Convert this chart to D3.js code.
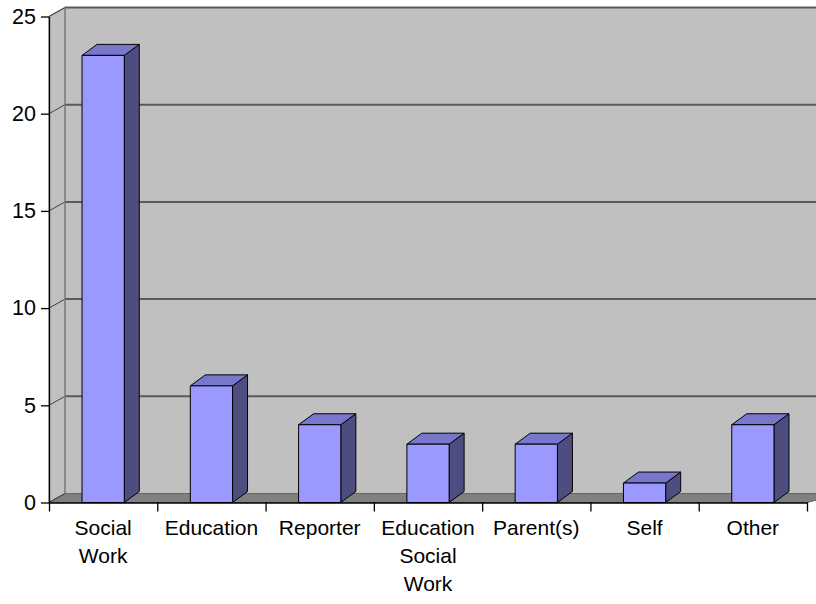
<!DOCTYPE html>
<html>
<head>
<meta charset="utf-8">
<script src="https://cdn.jsdelivr.net/npm/d3@7/dist/d3.min.js"></script>
<style>
  html, body { margin: 0; padding: 0; background: #ffffff; }
  svg { display: block; }
  text { font-family: "Liberation Sans", Arial, sans-serif; fill: #000; }
</style>
</head>
<body>
<svg id="chart" width="816" height="604"></svg>
<script>
// Referral sources (count of cases)
const categories = ["Social Work", "Education", "Reporter", "Education Social Work", "Parent(s)", "Self", "Other"];
const categoryLines = [["Social", "Work"], ["Education"], ["Reporter"], ["Education", "Social", "Work"], ["Parent(s)"], ["Self"], ["Other"]];
const values = [23, 6, 4, 3, 3, 1, 4];
const yTicks = [0, 5, 10, 15, 20, 25];

const svg = d3.select("#chart");

// Front plane geometry and the oblique depth offset of the walls
const x0 = 49, x1 = 807;
const wall = { dx: 16, dy: -9 };
const barDepth = { dx: 15, dy: -11 };

const x = d3.scaleBand().domain(categories).range([x0, x1]).paddingInner(0).paddingOuter(0);
const xEdge = d3.scaleLinear().domain([0, categories.length]).range([x0, x1]);
const y = d3.scaleLinear().domain([0, 25]).range([502.5, 16.5]);

const poly = pts => "M" + pts.map(p => p.join(",")).join("L") + "Z";

// Back wall
svg.append("path")
  .attr("d", poly([[x0 + wall.dx, y(25) + wall.dy], [900, y(25) + wall.dy], [900, y(0) + wall.dy], [x0 + wall.dx, y(0) + wall.dy]]))
  .attr("fill", "#c0c0c0");

// Left side wall
svg.append("path")
  .attr("d", poly([[x0, y(25)], [x0 + wall.dx, y(25) + wall.dy], [x0 + wall.dx, y(0) + wall.dy], [x0, y(0)]]))
  .attr("fill", "#c0c0c0")
  .attr("stroke", "#808080")
  .attr("stroke-width", 1.2);

// Floor
svg.append("path")
  .attr("d", poly([[x0, y(0)], [x0 + wall.dx, y(0) + wall.dy], [x1 + wall.dx + 20, y(0) + wall.dy], [x1, y(0)]]))
  .attr("fill", "#808080")
  .attr("stroke", "#666666")
  .attr("stroke-width", 1);

// Gridlines on the back wall and the matching diagonals on the side wall
const grid = svg.append("g");
grid.selectAll("line.back")
  .data(yTicks.filter(t => t > 0))
  .join("line")
  .attr("class", "back")
  .attr("x1", x0 + wall.dx).attr("x2", 900)
  .attr("y1", d => y(d) + wall.dy).attr("y2", d => y(d) + wall.dy)
  .attr("stroke", "#5a5a5a")
  .attr("stroke-width", 2);
grid.selectAll("line.side")
  .data(yTicks)
  .join("line")
  .attr("class", "side")
  .attr("x1", x0).attr("x2", x0 + wall.dx)
  .attr("y1", d => y(d)).attr("y2", d => y(d) + wall.dy)
  .attr("stroke", "#404040")
  .attr("stroke-width", 1);
// Back corner of the walls
svg.append("line")
  .attr("x1", x0 + wall.dx).attr("x2", x0 + wall.dx)
  .attr("y1", y(25) + wall.dy).attr("y2", y(0) + wall.dy)
  .attr("stroke", "#808080").attr("stroke-width", 1.2);

// 3D columns
const barW = x.bandwidth() * 0.39;
const bars = svg.append("g").selectAll("g.bar")
  .data(categories.map((c, i) => ({ c, v: values[i] })))
  .join("g")
  .attr("class", "bar");

bars.each(function (d) {
  const g = d3.select(this);
  const l = x(d.c) + (x.bandwidth() - barW) / 2;
  const r = l + barW;
  const top = y(d.v), bot = y(0);
  const { dx, dy } = barDepth;
  // side face
  g.append("path")
    .attr("d", poly([[r, top], [r + dx, top + dy], [r + dx, bot + dy], [r, bot]]))
    .attr("fill", "#4d4d80").attr("stroke", "#000").attr("stroke-width", 1).attr("stroke-linejoin", "round");
  // top face
  g.append("path")
    .attr("d", poly([[l, top], [l + dx, top + dy], [r + dx, top + dy], [r, top]]))
    .attr("fill", "#7777cc").attr("stroke", "#000").attr("stroke-width", 1).attr("stroke-linejoin", "round");
  // front face
  g.append("path")
    .attr("d", poly([[l, top], [r, top], [r, bot], [l, bot]]))
    .attr("fill", "#9999ff").attr("stroke", "#000").attr("stroke-width", 1).attr("stroke-linejoin", "round");
});

// Value axis
const yAxis = svg.append("g")
  .attr("transform", `translate(${x0},0)`)
  .call(d3.axisLeft(y).tickValues(yTicks).tickSize(8).tickPadding(5).tickSizeOuter(0));
yAxis.select(".domain").attr("stroke", "#000").attr("stroke-width", 1.3);
yAxis.selectAll(".tick line").attr("stroke", "#000").attr("stroke-width", 1.3);
yAxis.selectAll(".tick text")
  .style("font-size", "21.5px")
  .style("font-family", "'Liberation Sans', Arial, sans-serif")
  .attr("fill", "#000");

// Category axis: ticks fall between categories
const xAxis = svg.append("g")
  .attr("transform", `translate(0,${y(0)})`)
  .call(d3.axisBottom(xEdge).tickValues(d3.range(categories.length + 1)).tickFormat("").tickSize(9).tickSizeOuter(0));
xAxis.select(".domain").attr("stroke", "#000").attr("stroke-width", 1.3);
xAxis.selectAll(".tick line").attr("stroke", "#000").attr("stroke-width", 1.3);

// Category labels (wrapped)
const labels = svg.append("g").selectAll("text")
  .data(categories)
  .join("text")
  .attr("x", d => x(d) + x.bandwidth() / 2)
  .attr("y", 535)
  .attr("text-anchor", "middle")
  .style("font-size", "21px");
labels.each(function (d, i) {
  d3.select(this).selectAll("tspan")
    .data(categoryLines[i])
    .join("tspan")
    .attr("x", x(d) + x.bandwidth() / 2)
    .attr("dy", (t, j) => j === 0 ? 0 : 28)
    .text(t => t);
});
</script>
</body>
</html>
